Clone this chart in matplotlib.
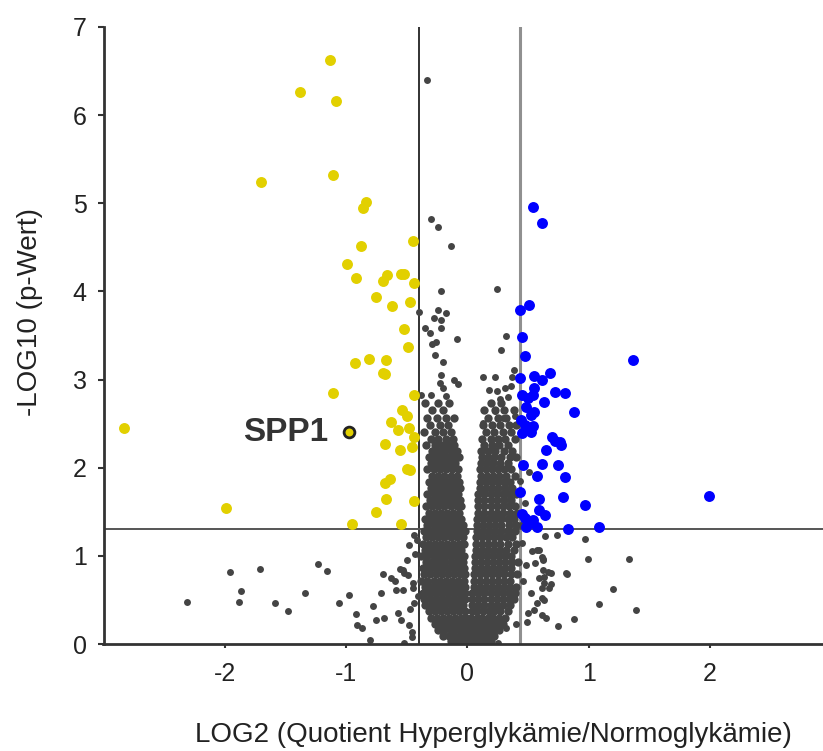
import numpy as np
import matplotlib.pyplot as plt

plt.rcParams['font.family'] = ['Liberation Sans', 'DejaVu Sans']

# significant, down (yellow)
down_x = [-1.13, -1.38, -1.08, -1.70, -1.11, -0.84, -0.86, -0.45, -0.88, -0.99,
          -0.92, -0.66, -0.70, -0.55, -0.52, -0.44, -0.75, -0.62, -0.47, -0.52,
          -0.49, -0.93, -0.81, -0.67, -0.70, -0.68, -1.11, -0.44, -2.83, -0.54,
          -0.50, -0.63, -0.57, -0.48, -0.44, -0.68, -0.46, -0.56, -0.50, -0.47,
          -0.68, -0.64, -0.67, -0.44, -1.99, -0.75, -0.95, -0.55]
down_y = [6.63, 6.26, 6.16, 5.24, 5.32, 5.02, 4.95, 4.57, 4.51, 4.31,
          4.15, 4.19, 4.12, 4.20, 4.20, 4.09, 3.94, 3.84, 3.88, 3.57,
          3.37, 3.19, 3.23, 3.22, 3.07, 3.06, 2.85, 2.83, 2.45, 2.65,
          2.59, 2.52, 2.43, 2.45, 2.35, 2.27, 2.24, 2.20, 1.99, 1.97,
          1.83, 1.87, 1.65, 1.62, 1.54, 1.50, 1.36, 1.36]

# significant, up (blue)
up_x = [0.54, 0.61, 0.51, 0.43, 0.45, 0.47, 1.36, 0.68, 0.55, 0.43,
        0.61, 0.55, 0.72, 0.80, 0.45, 0.50, 0.54, 0.63, 0.48, 0.55,
        0.52, 0.88, 0.44, 0.47, 0.54, 0.45, 0.52, 0.70, 0.72, 0.76,
        0.77, 0.65, 0.46, 0.61, 0.75, 0.57, 0.80, 0.43, 0.59, 0.79,
        1.99, 0.97, 0.59, 0.64, 0.45, 0.47, 0.54, 0.48, 0.57, 0.83,
        1.08, 0.51]
up_y = [4.96, 4.78, 3.85, 3.79, 3.48, 3.27, 3.22, 3.07, 3.04, 3.02,
        2.99, 2.90, 2.86, 2.85, 2.83, 2.79, 2.83, 2.74, 2.69, 2.63,
        2.60, 2.63, 2.54, 2.49, 2.47, 2.39, 2.41, 2.35, 2.30, 2.29,
        2.26, 2.20, 2.03, 2.04, 2.03, 1.91, 1.90, 1.73, 1.65, 1.67,
        1.68, 1.58, 1.52, 1.46, 1.48, 1.43, 1.41, 1.33, 1.33, 1.31,
        1.33, 1.37]

spp1_x, spp1_y = -0.98, 2.40

# not significant (gray), scattered points
gray_x = [-0.33, -0.30, -0.24, -0.14, -0.22, 0.24, -0.40, -0.24, -0.18, -0.28,
          -0.22, -0.35, -0.22, -0.31, -0.26, -0.29, -0.09, 0.32, 0.28, -0.27,
          -0.20, -0.22, -0.11, -0.08, -0.23, -0.20, -0.38, -0.30, -0.18, 0.13,
          0.23, 0.37, 0.38, 0.31, 0.36, 0.24, 0.27, 0.33, 0.23, 0.29,
          0.39, 0.13, 0.18,
          -2.31, -1.96, -1.71, -1.87, -1.88, -1.59, -1.48, -1.34, -1.23, -1.16,
          -1.06, -0.98, -0.92, -0.91, -0.87, -0.78, -0.80, -0.75, -0.69, -0.71,
          -0.70, -0.63, -0.60, -0.56, -0.59, -0.53, -0.52, -0.49, -0.45, -0.45,
          -0.57, -0.48, -0.46, -0.52, -0.44, -0.44, -0.48, -0.42, -0.53, -0.47,
          -0.50, -0.43, -0.55, -0.41, -0.46,
          0.64, 0.74, 0.97, 0.99, 1.33, 0.62, 0.69, 0.82, 0.63, 0.69,
          0.61, 0.61, 1.20, 1.08, 1.39, 0.61, 0.65, 0.88, 0.75, 0.59,
          0.57, 0.61, 0.56, 0.62, 0.62, 0.66, 0.59, 0.63, 0.67, 0.63,
          0.55, 0.57, 0.81, 0.32, 0.25, 0.40, 0.45, 0.48, 0.52, 0.46,
          0.50, 0.44, 0.47, 0.53, 0.49, 0.43, 0.51]
gray_y = [6.40, 4.82, 4.73, 4.52, 4.00, 4.03, 3.77, 3.79, 3.75, 3.70,
          3.68, 3.58, 3.59, 3.53, 3.43, 3.40, 3.46, 3.50, 3.34, 3.28,
          3.20, 3.05, 3.00, 2.95, 2.96, 2.90, 2.83, 2.83, 2.81, 3.03,
          3.03, 3.03, 3.11, 2.91, 2.93, 2.87, 2.78, 2.80, 2.64, 2.56,
          2.59, 2.51, 2.88,
          0.48, 0.82, 0.85, 0.60, 0.48, 0.47, 0.37, 0.58, 0.91, 0.83,
          0.46, 0.56, 0.34, 0.21, 0.18, 0.43, 0.05, 0.27, 0.29, 0.58,
          0.79, 0.75, 0.71, 0.85, 0.61, 0.61, 0.80, 0.78, 0.69, 0.63,
          0.35, 0.22, 0.14, 0.01, 0.46, 1.24, 1.12, 1.18, 0.84, 0.40,
          0.95, 1.02, 0.27, 0.55, 0.08,
          1.22, 1.24, 1.19, 0.96, 0.96, 0.96, 0.81, 0.79, 0.76, 0.68,
          0.64, 0.52, 0.62, 0.45, 0.39, 0.33, 0.29, 0.28, 0.20, 1.07,
          1.07, 0.99, 0.92, 0.95, 0.84, 0.82, 0.75, 0.69, 0.63, 0.50,
          0.39, 0.46, 0.80, 0.18, 0.01, 0.23, 1.15, 0.90, 0.58, 0.72,
          0.35, 1.35, 1.60, 1.05, 0.25, 1.85, 1.95]

# dense core of the volcano, read row by row
core_y = [0.03, 0.09, 0.16, 0.23, 0.30, 0.37, 0.44, 0.51, 0.58, 0.65,
          0.72, 0.79, 0.86, 0.93, 1.00, 1.07, 1.14, 1.21, 1.28, 1.35,
          1.42, 1.49, 1.56, 1.63, 1.70, 1.77, 1.84, 1.91, 1.98, 2.05,
          2.12, 2.19, 2.26, 2.33, 2.40, 2.48, 2.56, 2.65, 2.73]
core_x = [
    [-0.14, -0.09, -0.05, -0.01, 0.03, 0.07, 0.11, 0.15, 0.19],
    [-0.20, -0.15, -0.11, -0.06, -0.02, 0.02, 0.06, 0.10, 0.14, 0.18, 0.22],
    [-0.24, -0.19, -0.14, -0.10, -0.05, -0.01, 0.03, 0.08, 0.12, 0.17, 0.21, 0.26],
    [-0.27, -0.22, -0.17, -0.12, -0.08, -0.03, 0.02, 0.06, 0.11, 0.15, 0.20, 0.24, 0.29],
    [-0.30, -0.25, -0.20, -0.15, -0.10, -0.05, -0.01, 0.03, 0.08, 0.12, 0.17, 0.21, 0.26, 0.31],
    [-0.32, -0.27, -0.22, -0.17, -0.12, -0.07, -0.02, 0.04, 0.08, 0.13, 0.18, 0.22, 0.27, 0.33],
    [-0.35, -0.29, -0.24, -0.19, -0.14, -0.09, -0.04, 0.04, 0.09, 0.14, 0.19, 0.24, 0.29, 0.35],
    [-0.36, -0.31, -0.26, -0.21, -0.16, -0.11, -0.06, -0.02, 0.04, 0.09, 0.14, 0.19, 0.24, 0.29, 0.34, 0.38],
    [-0.37, -0.32, -0.27, -0.22, -0.17, -0.12, -0.07, -0.02, 0.04, 0.09, 0.14, 0.19, 0.24, 0.29, 0.34, 0.39],
    [-0.35, -0.30, -0.25, -0.20, -0.15, -0.10, -0.05, -0.02, 0.05, 0.10, 0.15, 0.20, 0.25, 0.30, 0.35, 0.40],
    [-0.38, -0.33, -0.28, -0.23, -0.18, -0.13, -0.08, -0.03, 0.05, 0.10, 0.15, 0.20, 0.25, 0.30, 0.35],
    [-0.36, -0.31, -0.26, -0.21, -0.16, -0.11, -0.06, -0.02, 0.05, 0.10, 0.15, 0.20, 0.25, 0.30, 0.36, 0.41],
    [-0.37, -0.32, -0.27, -0.22, -0.17, -0.12, -0.07, -0.03, 0.06, 0.11, 0.16, 0.21, 0.26, 0.31, 0.36],
    [-0.34, -0.29, -0.24, -0.19, -0.14, -0.09, -0.04, 0.06, 0.11, 0.16, 0.21, 0.26, 0.31, 0.37, 0.42],
    [-0.38, -0.33, -0.28, -0.23, -0.18, -0.13, -0.08, -0.03, 0.06, 0.11, 0.16, 0.21, 0.26, 0.31, 0.36],
    [-0.35, -0.30, -0.25, -0.20, -0.15, -0.10, -0.05, 0.07, 0.12, 0.17, 0.22, 0.27, 0.32, 0.38],
    [-0.37, -0.32, -0.27, -0.22, -0.17, -0.12, -0.07, -0.03, 0.07, 0.12, 0.17, 0.22, 0.27, 0.33, 0.40],
    [-0.34, -0.29, -0.24, -0.19, -0.14, -0.09, -0.04, 0.07, 0.12, 0.17, 0.22, 0.27, 0.32, 0.37],
    [-0.36, -0.31, -0.26, -0.21, -0.16, -0.11, -0.06, -0.02, 0.08, 0.13, 0.18, 0.23, 0.28, 0.33, 0.39],
    [-0.33, -0.28, -0.23, -0.18, -0.13, -0.08, -0.04, 0.08, 0.13, 0.18, 0.23, 0.28, 0.34, 0.40],
    [-0.35, -0.30, -0.25, -0.20, -0.15, -0.10, -0.05, 0.08, 0.13, 0.18, 0.23, 0.28, 0.33, 0.38],
    [-0.32, -0.27, -0.22, -0.17, -0.12, -0.07, 0.09, 0.14, 0.19, 0.24, 0.29, 0.35, 0.41],
    [-0.34, -0.29, -0.24, -0.19, -0.14, -0.09, -0.05, 0.09, 0.14, 0.19, 0.24, 0.29, 0.34, 0.39],
    [-0.31, -0.26, -0.21, -0.16, -0.11, -0.06, 0.09, 0.14, 0.19, 0.24, 0.30, 0.36],
    [-0.33, -0.28, -0.23, -0.18, -0.13, -0.08, 0.09, 0.14, 0.19, 0.24, 0.29, 0.34, 0.40],
    [-0.30, -0.25, -0.20, -0.15, -0.10, -0.06, 0.10, 0.15, 0.20, 0.25, 0.31, 0.37],
    [-0.32, -0.27, -0.22, -0.17, -0.12, -0.07, 0.10, 0.15, 0.20, 0.25, 0.30, 0.35],
    [-0.29, -0.24, -0.19, -0.14, -0.09, 0.11, 0.16, 0.21, 0.26, 0.32, 0.39],
    [-0.33, -0.28, -0.23, -0.18, -0.13, -0.08, 0.10, 0.15, 0.20, 0.25, 0.30, 0.36],
    [-0.30, -0.25, -0.20, -0.15, -0.10, 0.11, 0.16, 0.21, 0.27, 0.33],
    [-0.32, -0.27, -0.22, -0.17, -0.12, -0.07, 0.12, 0.17, 0.22, 0.28, 0.35, 0.40],
    [-0.29, -0.24, -0.19, -0.14, -0.09, 0.11, 0.17, 0.23, 0.30, 0.37],
    [-0.34, -0.27, -0.21, -0.16, -0.11, 0.14, 0.20, 0.26, 0.33],
    [-0.30, -0.24, -0.18, -0.12, 0.12, 0.19, 0.25, 0.31, 0.39],
    [-0.36, -0.27, -0.20, -0.14, 0.15, 0.22, 0.29, 0.36],
    [-0.31, -0.23, -0.16, 0.13, 0.20, 0.27, 0.34, 0.40],
    [-0.33, -0.25, -0.18, -0.11, 0.17, 0.25, 0.32],
    [-0.29, -0.20, 0.14, 0.23, 0.30, 0.38],
    [-0.35, -0.24, -0.15, 0.19, 0.28],
]

fc_left = -0.40     # fold change cutoffs
fc_right = 0.43
p_cut = 1.30        # -log10(0.05)

yellow = '#e2d000'
blue = '#0000ff'
dark = '#444444'

cx = [x for row in core_x for x in row]
cy = [y for y, row in zip(core_y, core_x) for _ in row]

fig = plt.figure(figsize=(8.23, 7.51), dpi=100)
ax = fig.add_axes([103.5 / 823, 107 / 751, 1 - 103.5 / 823, 617 / 751])

ax.scatter(cx, cy, s=36, color=dark, lw=0, zorder=2)
ax.scatter(gray_x, gray_y, s=25, color=dark, lw=0, zorder=2)
ax.scatter(down_x, down_y, s=62, color=yellow, lw=0, zorder=3)
ax.scatter(up_x, up_y, s=62, color=blue, lw=0, zorder=3)
ax.scatter([spp1_x], [spp1_y], s=60, color=yellow, edgecolor='#222222', lw=2, zorder=4)
ax.text(spp1_x - 0.17, spp1_y, 'SPP1', fontsize=24, fontweight='bold',
        color='#333333', ha='right', va='center')

ax.axvline(fc_left, color='#222222', lw=1.3, zorder=1)
ax.axvline(fc_right, color='#909090', lw=2.2, zorder=1)
ax.axhline(p_cut, color='#555555', lw=1.4, zorder=1)

ax.set_xlim(-3, 2.93)
ax.set_ylim(0, 7)
ax.set_xticks([-2, -1, 0, 1, 2])
ax.set_yticks(range(8))
ax.set_xticklabels(['-2', '-1', '0', '1', '2'])
for s in ['top', 'right']:
    ax.spines[s].set_visible(False)
for s in ['left', 'bottom']:
    ax.spines[s].set_color('#333333')
    ax.spines[s].set_linewidth(2)
ax.tick_params(axis='y', length=4, width=1.5, color='#333333', labelsize=18,
               labelcolor='#222222', pad=8)
ax.tick_params(axis='x', length=3, width=1.5, color='#333333', labelsize=18,
               labelcolor='#222222', pad=10)

fig.text(30 / 823, 1 - 312 / 751, '-LOG10 (p-Wert)', rotation=90, fontsize=20,
         color='#222222', ha='center', va='center')
fig.text(493 / 823, 1 - 735 / 751, 'LOG2 (Quotient Hyperglykämie/Normoglykämie)',
         fontsize=20, color='#222222', ha='center', va='center')

fig.savefig('out.png', dpi=100)
